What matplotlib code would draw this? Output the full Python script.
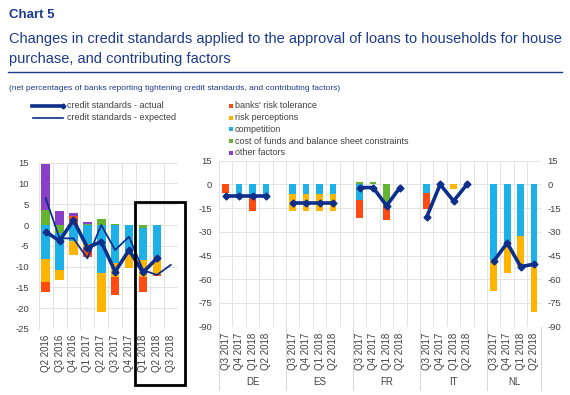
import numpy as np
import matplotlib
matplotlib.use("Agg")
import matplotlib.pyplot as plt
from matplotlib.lines import Line2D
from matplotlib.patches import Rectangle

plt.rcParams['font.family'] = ['Liberation Sans', 'DejaVu Sans']
plt.rcParams['axes.unicode_minus'] = False

# ---------------- data ----------------
left_categories = ['Q2 2016', 'Q3 2016', 'Q4 2016', 'Q1 2017', 'Q2 2017',
                   'Q3 2017', 'Q4 2017', 'Q1 2018', 'Q2 2018', 'Q3 2018']
left_risk_tolerance = [-2.2, 0.0, 2.2, -2.4, 0.0, -4.4, 0.0, -3.6, -0.4, np.nan]
left_risk_perceptions = [-5.7, -2.4, -3.4, -0.6, -9.2, -3.2, -3.8, -4.0, -4.0, np.nan]
left_competition = [-8.1, -9.0, -3.8, -4.6, -11.6, -9.2, -6.6, -7.8, -7.8, np.nan]
left_cost_of_funds = [3.7, -1.8, 0.0, 0.3, 1.4, 0.3, 0.0, -0.6, 0.0, np.nan]
left_other = [11.0, 3.4, 0.8, 0.5, 0.0, 0.0, 0.0, 0.0, 0.0, np.nan]
left_actual = [-1.6, -3.8, 1.2, -5.4, -4.0, -11.2, -6.0, -11.4, -8.0, np.nan]
left_expected = [6.5, -3.2, -3.2, -8.0, 0.0, -6.0, -2.8, -10.8, -12.0, -9.6]

countries = ['DE', 'ES', 'FR', 'IT', 'NL']
quarters = ['Q3 2017', 'Q4 2017', 'Q1 2018', 'Q2 2018']
# country-major: DE(4), ES(4), FR(4), IT(4), NL(4)
right_risk_tolerance = [-5.5, 0, -9.5, 0,  0, 0, 0, 0,  -11, 0, -10.5, 0,  -10, 0, 0, 0,  0, 0, 0, 0]
right_risk_perceptions = [0, 0, 0, 0,  -11, -11, -11, -11,  0, 0, 0, 0,  0, 0, -3, 0,  -19.5, -19.5, -20, -31]
right_competition = [0, -7, -7.5, -7,  -6, -6, -6, -6,  -10, 0, 0, 0,  -5.5, 0, 0, 0,  -48, -36.5, -32.5, -49.5]
right_cost_of_funds = [0, 0, 0, 0,  0, 0, 0, 0,  1.5, 1.5, -12, 0,  0, 0, 0, 0,  0, 0, 0, 0]
right_other = [0] * 20
right_actual = [-7.5, -7.5, -7.5, -7.5,  -11.5, -11.5, -11.5, -11.5,  -2, -2, -13.5, -2,
                -20.5, 0, -10.5, 0,  -48.5, -37, -52, -50.5]

left_yticks = [15, 10, 5, 0, -5, -10, -15, -20, -25]
right_yticks = [15, 0, -15, -30, -45, -60, -75, -90]

# ---------------- style ----------------
C_RED = '#FF4B12'
C_YEL = '#FFB400'
C_BLUE = '#1EB1E8'
C_GREEN = '#65B32E'
C_PURPLE = '#8A3FC8'
C_LINE = '#0B2F8A'
C_TITLE = '#1B3A8C'
C_GRID = '#E3E3E3'
C_TXT = '#404040'

W, H = 570, 395
fig = plt.figure(figsize=(W / 100, H / 100), dpi=100)


def fx(px):
    return px / W


def fy(py):
    return 1 - py / H


# stacking order as drawn (closest to zero first)
def stacked(ax, x, series, width):
    pos = np.zeros(len(x))
    neg = np.zeros(len(x))
    for vals, col in series:
        v = np.nan_to_num(np.asarray(vals, dtype=float))
        bottom = np.where(v >= 0, pos, neg)
        ax.bar(x, v, width=width, bottom=bottom, color=col, linewidth=0, zorder=2)
        pos = pos + np.where(v > 0, v, 0)
        neg = neg + np.where(v < 0, v, 0)


# ---------------- left panel ----------------
axL = fig.add_axes([fx(38.7), fy(329), (177.7 - 38.7) / W, (329 - 162.7) / H])
xl = np.arange(len(left_categories))
stacked(axL, xl, [(left_cost_of_funds, C_GREEN), (left_competition, C_BLUE),
                  (left_risk_perceptions, C_YEL), (left_risk_tolerance, C_RED),
                  (left_other, C_PURPLE)], 0.62)
axL.plot(xl, left_expected, color=C_LINE, lw=1.3, zorder=3)
axL.plot(xl, left_actual, color=C_LINE, lw=2.6, marker='D', ms=3.5, zorder=4)
axL.set_xlim(-0.5, len(left_categories) - 0.5)
axL.set_ylim(-25, 15)
axL.set_yticks(left_yticks)
axL.set_xticks(xl)
axL.set_xticklabels(left_categories, rotation=90)
axL.set_xticks(np.arange(-0.5, len(left_categories)), minor=True)
axL.grid(True, which='minor', axis='x', color=C_GRID, lw=0.7, zorder=0)
axL.grid(True, which='major', axis='y', color=C_GRID, lw=0.7, zorder=0)
axL.tick_params(axis='both', which='both', length=0, colors=C_TXT)
axL.tick_params(axis='y', pad=7, labelsize=6.8)
axL.tick_params(axis='x', pad=4, labelsize=7)
for s in axL.spines.values():
    s.set_visible(False)
axL.set_axisbelow(True)

# ---------------- right panel ----------------
axR = fig.add_axes([fx(219), fy(326.7), (540.7 - 219) / W, (326.7 - 160.7) / H])
nq = len(quarters)
xr = np.array([ci * (nq + 1) + qi for ci in range(len(countries)) for qi in range(nq)])
stacked(axR, xr, [(right_cost_of_funds, C_GREEN), (right_competition, C_BLUE),
                  (right_risk_perceptions, C_YEL), (right_risk_tolerance, C_RED),
                  (right_other, C_PURPLE)], 0.5)
for ci in range(len(countries)):
    sl = slice(ci * nq, (ci + 1) * nq)
    axR.plot(xr[sl], right_actual[sl], color=C_LINE, lw=2.6, marker='D', ms=3.5, zorder=4)
nslots = len(countries) * (nq + 1) - 1
axR.set_xlim(-0.5, nslots - 0.5)
axR.set_ylim(-90, 15)
axR.set_yticks(right_yticks)
axR.set_xticks(xr)
axR.set_xticklabels(quarters * len(countries), rotation=90)
axR.set_xticks(np.arange(-0.5, nslots), minor=True)
axR.grid(True, which='minor', axis='x', color=C_GRID, lw=0.7, zorder=0)
axR.grid(True, which='major', axis='y', color=C_GRID, lw=0.7, zorder=0)
axR.tick_params(axis='both', which='both', length=0, colors=C_TXT)
axR.tick_params(axis='y', pad=5, labelright=True, labelsize=6.8)
axR.tick_params(axis='x', pad=4, labelsize=7)
for s in axR.spines.values():
    s.set_visible(False)
axR.set_axisbelow(True)

# group labels and separators
trans = axR.get_xaxis_transform()
bounds = [-0.5] + [ci * (nq + 1) + nq + 0.5 for ci in range(len(countries) - 1)] + [nslots - 0.5]
for b in bounds:
    axR.add_line(Line2D([b, b], [0, -0.38], transform=trans, color='#D5D5D5', lw=0.7, clip_on=False))
for ci, c in enumerate(countries):
    mid = (bounds[ci] + bounds[ci + 1]) / 2
    axR.text(mid, -0.335, c, transform=trans, ha='center', va='center', fontsize=7, color=C_TXT)

# ---------------- titles ----------------
fig.text(fx(9), fy(18), 'Chart 5', fontsize=9.5, fontweight='bold', color=C_TITLE, ha='left', va='baseline')
fig.text(fx(9), fy(42.5), 'Changes in credit standards applied to the approval of loans to households for house',
         fontsize=10.5, color=C_TITLE, ha='left', va='baseline')
fig.text(fx(9), fy(62.5), 'purchase, and contributing factors', fontsize=10.5, color=C_TITLE, ha='left', va='baseline')
fig.add_artist(Line2D([fx(8), fx(562)], [fy(72), fy(72)], color=C_TITLE, lw=1.0))
fig.text(fx(9), fy(90.5), '(net percentages of banks reporting tightening credit standards, and contributing factors)',
         fontsize=6, color=C_TITLE, ha='left', va='baseline')

# ---------------- legend ----------------
fig.add_artist(Line2D([fx(32), fx(63)], [fy(106), fy(106)], color=C_LINE, lw=2.6, marker='D', ms=2.5,
                      markevery=[1], ))
fig.add_artist(Line2D([fx(33), fx(63)], [fy(118), fy(118)], color=C_LINE, lw=1.2))
fig.text(fx(67), fy(106), 'credit standards - actual', fontsize=6.5, color=C_TXT, va='center', ha='left')
fig.text(fx(67), fy(118), 'credit standards - expected', fontsize=6.5, color=C_TXT, va='center', ha='left')

leg_items = [('banks\' risk tolerance', C_RED), ('risk perceptions', C_YEL), ('competition', C_BLUE),
             ('cost of funds and balance sheet constraints', C_GREEN), ('other factors', C_PURPLE)]
for i, (lab, col) in enumerate(leg_items):
    yc = 106 + i * 11.7
    fig.add_artist(Rectangle((fx(229), fy(yc + 2)), 4 / W, 4 / H, color=col, lw=0))
    fig.text(fx(235), fy(yc), lab, fontsize=6.5, color=C_TXT, va='center', ha='left')

# highlight box
fig.add_artist(Rectangle((fx(135), fy(385)), 50 / W, (385 - 202) / H, fill=False, edgecolor='black', lw=2.0))

fig.savefig('out.png', dpi=100, facecolor='white')
